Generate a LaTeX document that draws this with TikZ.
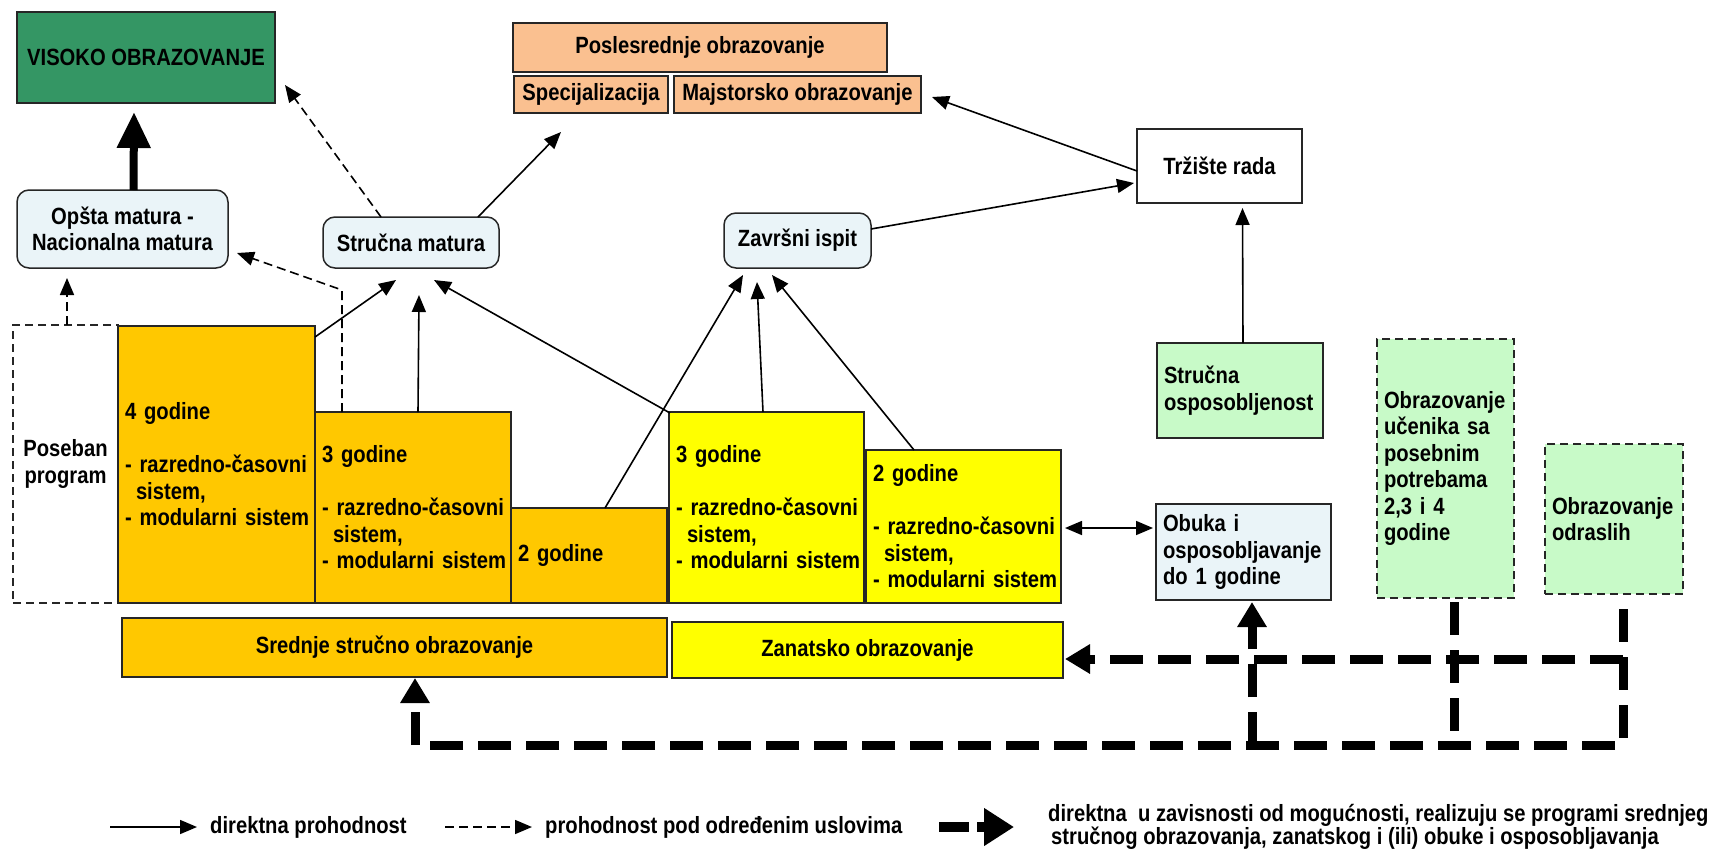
\documentclass[tikz,border=0pt]{standalone}
\usepackage{fontspec}
\setmainfont{Liberation Sans}[FakeStretch=0.86]
\usetikzlibrary{arrows.meta,calc}

\definecolor{hegreen}{RGB}{52,150,100}
\definecolor{peach}{RGB}{250,192,144}
\definecolor{gold}{RGB}{255,200,0}
\definecolor{lemon}{RGB}{255,255,0}
\definecolor{paleblue}{RGB}{234,244,248}
\definecolor{palegreen}{RGB}{200,250,200}

\tikzset{
  box/.style={draw=black!85, line width=1.5pt, anchor=north west,
    inner sep=0pt, outer sep=0pt, align=center},
  rbox/.style={box, rounded corners=12pt, fill=paleblue},
  lbox/.style={box, inner xsep=7pt, align=left},
  dbox/.style={lbox, fill=palegreen, dash pattern=on 8pt off 5pt},
  conn/.style={line width=1.6pt, -{Triangle[length=17pt,width=14pt]}},
  cond/.style={conn, dash pattern=on 9pt off 5pt},
  twoway/.style={line width=1.6pt, {Triangle[length=17pt,width=14pt]}-{Triangle[length=17pt,width=14pt]}},
  bigconn/.style={line width=8pt, -{Triangle[length=36pt,width=32pt]}},
  bdash/.style={line width=9pt, dash pattern=on 33pt off 15pt},
  bdashtip/.style={bdash, -{Triangle[length=25pt,width=28pt]}},
}

\begin{document}
\begin{tikzpicture}[x=1pt,y=-1pt,font=\fontsize{23.5}{26.5}\selectfont\bfseries]
\useasboundingbox (0,0) rectangle (1724,855);

% --- upper level
\node[box, fill=hegreen, minimum width=258pt, minimum height=91pt] (viso) at (17,12) {VISOKO OBRAZOVANJE};
\node[box, fill=peach, minimum width=374pt, minimum height=49pt] (posl) at (513,23) {Poslesrednje obrazovanje};
\node[box, fill=peach, minimum width=154pt, minimum height=37pt] (spec) at (514,76) {Specijalizacija};
\node[box, fill=peach, minimum width=247pt, minimum height=37pt] (majs) at (674,76) {Majstorsko obrazovanje};
\node[box, fill=white, minimum width=165pt, minimum height=74pt] (trz) at (1137,129) {Tržište rada};

% --- exams
\node[rbox, minimum width=211pt, minimum height=78pt] (opsta) at (17,190) {Opšta matura -\\Nacionalna matura};
\node[rbox, minimum width=176pt, minimum height=51pt] (strm) at (323,217) {Stručna matura};
\node[rbox, minimum width=147pt, minimum height=55pt] (zav) at (724,213) {Završni ispit};

% --- programmes
\node[box, dash pattern=on 8pt off 5pt, minimum width=105pt, minimum height=278pt] (pos) at (13,325) {Poseban\\program};
\node[lbox, fill=gold, minimum width=197pt, minimum height=277pt, text width=183pt] (g4) at (118,326)
  {\mbox{4 godine}\\[26.5pt]\mbox{- razredno-časovni}\\\mbox{\hspace*{11pt}sistem,}\\\mbox{- modularni sistem}};
\node[lbox, fill=gold, minimum width=196pt, minimum height=191pt, text width=182pt] (g3) at (315,412)
  {\mbox{3 godine}\\[26.5pt]\mbox{- razredno-časovni}\\\mbox{\hspace*{11pt}sistem,}\\\mbox{- modularni sistem}};
\node[lbox, fill=gold, minimum width=156pt, minimum height=95pt, text width=142pt] (g2) at (511,508) {2 godine};
\node[lbox, fill=lemon, minimum width=195pt, minimum height=191pt, text width=181pt] (z3) at (669,412)
  {\mbox{3 godine}\\[26.5pt]\mbox{- razredno-časovni}\\\mbox{\hspace*{11pt}sistem,}\\\mbox{- modularni sistem}};
\node[lbox, fill=lemon, minimum width=195pt, minimum height=153pt, text width=181pt] (z2) at (866,450)
  {\mbox{2 godine}\\[26.5pt]\mbox{- razredno-časovni}\\\mbox{\hspace*{11pt}sistem,}\\\mbox{- modularni sistem}};
\node[box, fill=gold, minimum width=545pt, minimum height=59pt] (sred) at (122,618) {Srednje stručno obrazovanje};
\node[box, fill=lemon, minimum width=391pt, minimum height=56pt] (zan) at (672,622) {Zanatsko obrazovanje};

% --- right-hand column
\node[lbox, fill=palegreen, minimum width=166pt, minimum height=95pt, text width=152pt] (strosp) at (1157,343)
  {Stručna\\osposobljenost};
\node[lbox, fill=paleblue, minimum width=175pt, minimum height=96pt, text width=161pt] (obuka) at (1156,504)
  {Obuka i\\osposobljavanje\\do~1~godine};
\node[dbox, minimum width=137pt, minimum height=259pt, text width=123pt] (obuc) at (1377,339)
  {Obrazovanje\\učenika sa\\posebnim\\potrebama\\2,3~i~4\\godine};
\node[dbox, minimum width=138pt, minimum height=150pt, text width=124pt] (obodr) at (1545,444)
  {Obrazovanje\\odraslih};

% --- direct transitions
\draw[bigconn] ([xshift=11pt]opsta.north) -- ([xshift=-12pt,yshift=-9pt]viso.south);
\draw[conn] ([xshift=67pt]strm.north) -- ([xshift=47pt,yshift=-19pt]spec.south west);
\draw[conn] ([yshift=-5pt]trz.west) -- ([xshift=11pt,yshift=-2.5pt]majs.east);
\draw[conn] ([yshift=11.5pt]zav.east) -- ([xshift=-3pt,yshift=-17pt]trz.west);
\draw[conn] ([xshift=3pt]strosp.north) -- ([xshift=23pt,yshift=-5pt]trz.south);
\draw[conn] ([yshift=-11pt]g4.north east) -- ([xshift=73pt,yshift=-12pt]strm.south west);
\draw[conn] ([xshift=5pt]g3.north) -- ([xshift=96pt,yshift=-27pt]strm.south west);
\draw[conn] ([xshift=1pt,yshift=-1pt]z3.north west) -- ([xshift=111pt,yshift=-12pt]strm.south west);
\draw[conn] ([xshift=16pt]g2.north) -- ([xshift=19pt,yshift=-7pt]zav.south west);
\draw[conn] ([xshift=-3.5pt]z3.north) -- ([xshift=33pt,yshift=-14pt]zav.south west);
\draw[conn] ([xshift=-49.5pt]z2.north) -- ([xshift=48pt,yshift=-7pt]zav.south west);
\draw[twoway] ([xshift=4pt,yshift=-1.5pt]z2.east) -- ([xshift=-3pt,yshift=24pt]obuka.west);

% --- conditional transitions
\draw[cond] ([xshift=-30pt]strm.north) -- ([xshift=10pt,yshift=18pt]viso.south east);
\draw[cond] ([xshift=1.5pt]pos.north) -- ([xshift=-55.5pt,yshift=-10pt]opsta.south);
\draw[cond] ([xshift=27pt]g3.north west) -- ++(0,-122) -- ([xshift=9pt,yshift=-24pt]opsta.east);

% --- programmes realised within secondary vocational education
\draw[bdashtip] ([xshift=9pt,yshift=-15pt]obodr.south) -- ++(0,136) -| ([xshift=20.5pt,yshift=-1pt]sred.south);
\draw[bdash] ([xshift=8.5pt,yshift=-4pt]obuc.south) -- ++(0,143);
\draw[bdashtip] ([xshift=9pt,yshift=-65pt]obodr.south) -- ([xshift=2pt,yshift=-9pt]zan.east);
\draw[bdashtip] ([xshift=8.5pt,yshift=-145pt]obuka.south) -- ([xshift=8.5pt,yshift=-2pt]obuka.south);

% --- legend
\node[anchor=west, inner sep=0pt] (lg1) at (210,827) {direktna prohodnost};
\node[anchor=west, inner sep=0pt] (lg2) at (545,827) {prohodnost pod određenim uslovima};
\node[anchor=west, inner sep=0pt, align=left, font=\fontsize{23.5}{23}\selectfont\bfseries] (lg3) at (1048,827)
  {direktna\ \ u zavisnosti od mogućnosti, realizuju se programi srednjeg\\\hspace*{3pt}stručnog obrazovanja, zanatskog i (ili) obuke i osposobljavanja};
\draw[conn] ([xshift=-100pt]lg1.west) -- ([xshift=-13pt]lg1.west);
\draw[cond] ([xshift=-100pt]lg2.west) -- ([xshift=-13pt]lg2.west);
\draw[line width=10pt, dash pattern=on 30pt off 8pt, -{Triangle[length=30pt,width=36pt]}]
  ([xshift=-109pt]lg3.west) -- ([xshift=-34pt]lg3.west);
\end{tikzpicture}
\end{document}
